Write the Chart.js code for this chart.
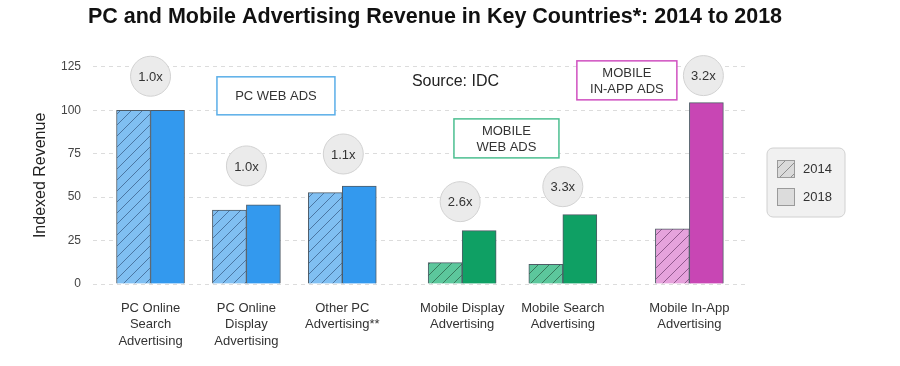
<!DOCTYPE html>
<html><head><meta charset="utf-8">
<script src="https://cdn.jsdelivr.net/npm/chart.js@4/dist/chart.umd.min.js"></script>
<style>html,body{margin:0;padding:0;background:#fff}</style>
</head><body>
<canvas id="c" width="900" height="366"></canvas>
<script>
// ---- data ----
const categories = [
  ["PC Online","Search","Advertising"],
  ["PC Online","Display","Advertising"],
  ["Other PC","Advertising**"],
  ["Mobile Display","Advertising"],
  ["Mobile Search","Advertising"],
  ["Mobile In-App","Advertising"]
];
const years = ["2014", "2018"];
const revenue2014 = [100, 42.6, 52.6, 12.3, 11.3, 31.7];
const revenue2018 = [100, 45.5, 56.4, 30.7, 39.9, 104.4];
const growthLabels = ["1.0x", "1.0x", "1.1x", "2.6x", "3.3x", "3.2x"];
const segmentLabels = [["PC WEB ADS"], ["MOBILE", "WEB ADS"], ["MOBILE", "IN-APP ADS"]];
const sourceLabel = "Source: IDC";
const yTicks = [0, 25, 50, 75, 100, 125];
const chartTitle = "PC and Mobile Advertising Revenue in Key Countries*: 2014 to 2018";
const yTitle = "Indexed Revenue";

// ---- layout / style ----
const slots = [1, 2, 3, 4.25, 5.3, 6.62];
const family = [0, 0, 0, 1, 1, 2];
const palette = [
  {light: "#80bff2", dark: "#3399ee", hatch: "rgba(40,70,110,0.6)", box: "#5aaee8"},
  {light: "#5cc79c", dark: "#0fa064", hatch: "rgba(30,70,50,0.6)", box: "#4cbf90"},
  {light: "#e6a2dc", dark: "#c846b4", hatch: "rgba(90,40,90,0.6)", box: "#d050c0"}
];
const bubbleLift = [34, 39, 32, 29, 28, 27];
const bubbleDx = [0, 0, 1, -2, 0, 14];
const segmentBoxes = [
  {cx: 2.308, cy: 108.3, w: 118, h: 38},
  {cx: 4.712, cy: 83.8, w: 105, h: 39},
  {cx: 5.968, cy: 117.2, w: 100, h: 39}
];
const FONT = "'Liberation Sans', Arial, Helvetica, sans-serif";
Chart.defaults.font.family = FONT;

function makeHatch(bg, line) {
  const s = 11;
  const c = document.createElement('canvas');
  c.width = s; c.height = s;
  const g = c.getContext('2d');
  g.fillStyle = bg; g.fillRect(0, 0, s, s);
  g.strokeStyle = line; g.lineWidth = 1;
  g.beginPath();
  g.moveTo(0, s); g.lineTo(s, 0);
  g.moveTo(-2, 2); g.lineTo(2, -2);
  g.moveTo(s - 2, s + 2); g.lineTo(s + 2, s - 2);
  g.stroke();
  return g.createPattern(c, 'repeat');
}
const ctx = document.getElementById('c').getContext('2d');
const hatchFills = palette.map(p => makeHatch(p.light, p.hatch));
const legendHatch = makeHatch('#dadada', 'rgba(110,110,110,0.7)');

const overlay = {
  id: 'overlay',
  afterLayout(chart) {
    const t = chart.titleBlock;
    if (t) { t.left = 0; t.right = 870; t.width = 870; }
  },
  afterDatasetsDraw(chart) {
    const {ctx, scales: {x, y}, chartArea} = chart;
    ctx.save();
    // growth bubbles
    growthLabels.forEach((lab, i) => {
      const cx = x.getPixelForValue(slots[i]) + bubbleDx[i];
      const top = y.getPixelForValue(Math.max(revenue2014[i], revenue2018[i]));
      const cy = top - bubbleLift[i];
      ctx.beginPath();
      ctx.arc(cx, cy, 20, 0, Math.PI * 2);
      ctx.fillStyle = '#ebebeb';
      ctx.fill();
      ctx.strokeStyle = '#d2d2d2';
      ctx.lineWidth = 1;
      ctx.stroke();
      ctx.fillStyle = '#333';
      ctx.font = "13px " + FONT;
      ctx.textAlign = 'center';
      ctx.textBaseline = 'middle';
      ctx.fillText(lab, cx, cy + 1);
    });
    // segment boxes
    segmentBoxes.forEach((b, i) => {
      const cx = x.getPixelForValue(b.cx);
      const cy = y.getPixelForValue(b.cy);
      ctx.fillStyle = '#fff';
      ctx.fillRect(cx - b.w / 2, cy - b.h / 2, b.w, b.h);
      ctx.strokeStyle = palette[i].box;
      ctx.lineWidth = 1.5;
      ctx.strokeRect(cx - b.w / 2, cy - b.h / 2, b.w, b.h);
      ctx.fillStyle = '#333';
      ctx.font = "13px " + FONT;
      ctx.textAlign = 'center';
      ctx.textBaseline = 'middle';
      const lines = segmentLabels[i];
      lines.forEach((ln, k) => {
        ctx.fillText(ln, cx, cy + (k - (lines.length - 1) / 2) * 16 + 1);
      });
    });
    // source
    ctx.fillStyle = '#222';
    ctx.font = "16px " + FONT;
    ctx.textAlign = 'left';
    ctx.textBaseline = 'middle';
    ctx.fillText(sourceLabel, x.getPixelForValue(3.726), y.getPixelForValue(116.4));
    // legend
    const lx = chartArea.right + 22, ly = 148, lw = 78, lh = 69;
    ctx.beginPath();
    ctx.roundRect(lx, ly, lw, lh, 6);
    ctx.fillStyle = '#f1f1f1';
    ctx.fill();
    ctx.strokeStyle = '#d0d0d0';
    ctx.lineWidth = 1;
    ctx.stroke();
    years.forEach((yr, k) => {
      const sy = ly + 12 + k * 28;
      ctx.fillStyle = k === 0 ? legendHatch : '#dcdcdc';
      ctx.fillRect(lx + 10, sy, 18, 18);
      ctx.strokeStyle = '#9a9a9a';
      ctx.strokeRect(lx + 10.5, sy + 0.5, 17, 17);
      ctx.fillStyle = '#333';
      ctx.font = "13px " + FONT;
      ctx.textAlign = 'left';
      ctx.textBaseline = 'middle';
      ctx.fillText(yr, lx + 36, sy + 9.5);
    });
    ctx.restore();
  }
};

new Chart(ctx, {
  type: 'bar',
  data: {
    datasets: [
      {
        label: years[0],
        data: revenue2014.map((v, i) => ({x: slots[i], y: v})),
        backgroundColor: family.map(f => hatchFills[f]),
        borderColor: '#4f5b66',
        borderWidth: 1,
        barThickness: 34,
        grouped: true
      },
      {
        label: years[1],
        data: revenue2018.map((v, i) => ({x: slots[i], y: v})),
        backgroundColor: family.map(f => palette[f].dark),
        borderColor: '#4f5b66',
        borderWidth: 1,
        barThickness: 34,
        grouped: true
      }
    ]
  },
  options: {
    responsive: false,
    animation: false,
    events: [],
    layout: {padding: {left: 27, right: 155, top: 0, bottom: 0}},
    plugins: {
      legend: {display: false},
      tooltip: {enabled: false},
      title: {
        display: true,
        text: chartTitle,
        color: '#111',
        font: {size: 21.5, weight: 'bold', family: FONT},
        padding: {top: 4, bottom: 37}
      }
    },
    scales: {
      x: {
        type: 'linear',
        offset: false,
        min: 0.4,
        max: 7.2,
        grid: {display: false, drawTicks: false},
        border: {display: false},
        afterBuildTicks: s => { s.ticks = slots.map(v => ({value: v})); },
        afterFit: s => { s.height = 82; },
        ticks: {
          autoSkip: false,
          maxRotation: 0,
          padding: 15.5,
          color: '#333',
          font: {size: 13, lineHeight: 1.3},
          callback: (v, i) => categories[i]
        }
      },
      y: {
        min: 0,
        max: 125,
        afterBuildTicks: s => { s.ticks = yTicks.map(v => ({value: v})); },
        afterFit: s => { s.width = 66; },
        grid: {color: '#dcdcdc', drawTicks: false, lineWidth: 1},
        border: {display: false, dash: [4, 4]},
        ticks: {padding: 12, color: '#444', font: {size: 12}},
        title: {display: true, text: yTitle, color: '#222', font: {size: 16}}
      }
    }
  },
  plugins: [overlay]
});
</script>
</body></html>
